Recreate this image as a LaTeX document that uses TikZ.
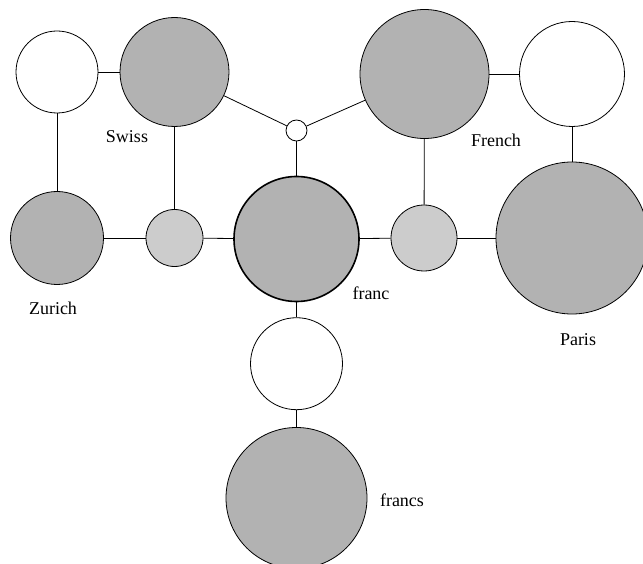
\documentclass[tikz,border=0pt]{standalone}
\usepackage{fontspec}
\setmainfont{Liberation Serif}
\usetikzlibrary{positioning}

\begin{document}
\begin{tikzpicture}[x=1pt,y=-1pt,
    unit/.style={circle,draw=black,line width=0.8pt,inner sep=0pt},
    hid/.style={unit,fill=white},
    word/.style={unit,fill=black!30},
    cls/.style={unit,fill=black!20},
    lbl/.style={font=\fontsize{18}{20}\selectfont},
    link/.style={line width=0.8pt}]

  \useasboundingbox (0,0) rectangle (643,564);
  \node[hid,minimum size=82pt] (hsw) at (57,72) {};
  \node[word,minimum size=109pt] (swiss) at (174.5,72) {};
  \node[hid,minimum size=21pt] (hmid) at (296.5,130.5) {};
  \node[word,minimum size=129pt] (french) at (424.5,74) {};
  \node[hid,minimum size=105pt] (hfr) at (572,74) {};
  \node[word,minimum size=93pt] (zurich) at (57,238) {};
  \node[cls,minimum size=57pt] (csw) at (174.5,238) {};
  \node[word,minimum size=125pt,line width=1.6pt] (franc) at (296.5,239) {};
  \node[cls,minimum size=66pt] (cfr) at (424,238) {};
  \node[word,minimum size=152pt] (paris) at (572,238) {};
  \node[hid,minimum size=92pt,below=15pt of franc] (hfc) {};
  \node[word,minimum size=141pt,below=17pt of hfc] (francs) {};

  % labels
  \node[lbl] (lswiss) at (127,137) {Swiss};
  \node[lbl] (lfrench) at (496,140) {French};
  \node[lbl] (lzurich) at (53,308) {Zurich};
  \node[lbl] (lfranc) at (371,293) {franc};
  \node[lbl] (lparis) at (578,340) {Paris};
  \node[lbl] (lfrancs) at (402,500) {francs};

  \draw[link] (hsw) -- (swiss);
  \draw[link] (hsw) -- (zurich);
  \draw[link] (swiss) -- (hmid);
  \draw[link] (swiss) -- (csw);
  \draw[link] (hmid) -- (french);
  \draw[link] (hmid) -- (franc);
  \draw[link] (french) -- (hfr);
  \draw[link] (french) -- (cfr);
  \draw[link] (hfr) -- (paris);
  \draw[link] (zurich) -- (csw);
  \draw[link] (csw) -- (franc);
  \draw[link] (franc) -- (cfr);
  \draw[link] (cfr) -- (paris);
  \draw[link] (franc) -- (hfc);
  \draw[link] (hfc) -- (francs);

\end{tikzpicture}
\end{document}
